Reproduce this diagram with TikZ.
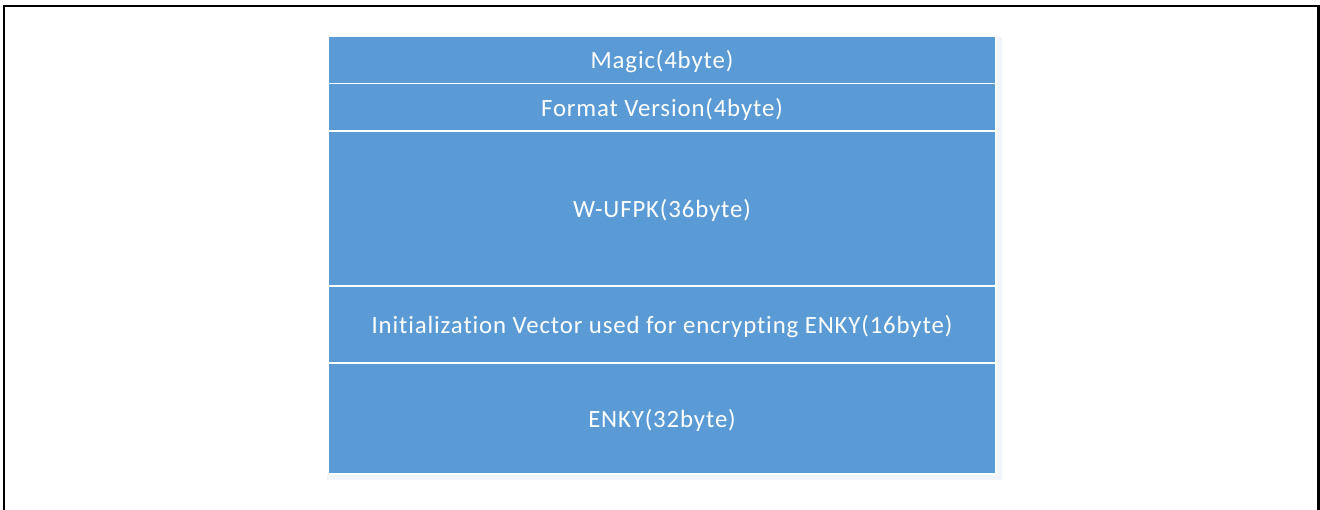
\documentclass[tikz,border=0pt]{standalone}
\usepackage{fontspec}
\setmainfont{Carlito}
\newfontfamily\fieldfont[LetterSpace=3.5, Ligatures=NoCommon]{Carlito}
\usepackage{tikz}
\usetikzlibrary{positioning}
\definecolor{fieldBlue}{HTML}{5B9BD5}
\definecolor{fieldShadow}{HTML}{F1F5FA}

\begin{document}
\begin{tikzpicture}[
  x=0.75pt, y=-0.75pt,
  font=\fieldfont\fontsize{18.6}{22}\selectfont,
  node distance=0pt,
  field/.style={draw=white, line width=0.9pt, fill=fieldBlue, text=white,
                minimum width=501pt, inner sep=0pt, outer sep=0pt, text depth=0pt,
                align=center},
  frame/.style={draw=black, line width=1.6pt}
]
\useasboundingbox (0,0) rectangle (1320,510);
\draw[frame] (4,6) rectangle (1318.5,530);

% soft shadow behind the stack
\fill[fieldShadow] (327,37) rectangle (1002,480);

\node[field, minimum height=35.6pt, anchor=north west] (magic) at (328,36) {Magic(4byte)};
\node[field, minimum height=35.6pt, below=of magic] (version) {Format Version(4byte)};
\node[field, minimum height=116.25pt, below=of version] (wufpk) {W-UFPK(36byte)};
\node[field, minimum height=57.75pt, below=of wufpk] (iv)
  {Initialization Vector used for encrypting ENKY(16byte)};
\node[field, minimum height=83.25pt, below=of iv] (enky) {ENKY(32byte)};
\end{tikzpicture}
\end{document}
